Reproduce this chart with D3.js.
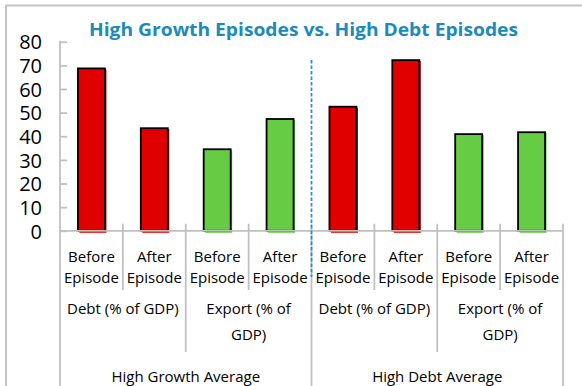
<!DOCTYPE html>
<html>
<head>
<meta charset="utf-8">
<script src="https://cdn.jsdelivr.net/npm/d3@7"></script>
<style>
  html, body { margin: 0; padding: 0; background: #fff; }
  svg { display: block; font-family: "Open Sans", "Noto Sans", sans-serif; }
</style>
</head>
<body>
<svg id="chart" width="582" height="386"></svg>
<script>
// Chart data
const title = "High Growth Episodes vs. High Debt Episodes";
const groups = ["High Growth Average", "High Debt Average"];
const measures = ["Debt (% of GDP)", "Export (% of GDP)"];
const measureLines = [["Debt (% of GDP)"], ["Export (% of", "GDP)"]];
const phases = ["Before Episode", "After Episode"];
const phaseLines = [["Before", "Episode"], ["After", "Episode"]];
const highGrowthDebt = [68.7, 43.4];
const highGrowthExport = [34.5, 47.3];
const highDebtDebt = [52.5, 72.2];
const highDebtExport = [40.9, 41.7];
const yTicks = [0, 10, 20, 30, 40, 50, 60, 70, 80];
const measureColors = ["#e00000", "#66cc44"];

// Flatten into one row per bar
const seriesByGroup = [[highGrowthDebt, highGrowthExport], [highDebtDebt, highDebtExport]];
const bars = [];
groups.forEach((g, gi) => {
  measures.forEach((m, mi) => {
    phases.forEach((p, pi) => {
      bars.push({ key: `${gi}-${mi}-${pi}`, group: gi, measure: mi, phase: pi,
                  value: seriesByGroup[gi][mi][pi] });
    });
  });
});

const svg = d3.select("#chart");
const left = 60, right = 563, zeroY = 230.8, topY = 41.7;

const x = d3.scaleBand().domain(bars.map(d => d.key)).range([left, right]).padding(0);
const y = d3.scaleLinear().domain([0, 80]).range([zeroY, topY]);
const bw = x.bandwidth();
const barW = 27;
const gray = "#bfbfbf";

// Outer frame
svg.append("path")
  .attr("d", `M6,400 V5.5 H600`)
  .attr("fill", "none").attr("stroke", "#c4c4c4").attr("stroke-width", 2);

// Title
svg.append("text")
  .attr("x", 303.5).attr("y", 36)
  .attr("text-anchor", "middle")
  .attr("font-size", 18.5).attr("font-weight", 700)
  .attr("fill", "#1b8abd")
  .attr("textLength", 429).attr("lengthAdjust", "spacingAndGlyphs")
  .text(title);

// Y axis
const yAxis = d3.axisLeft(y).tickValues(yTicks).tickSize(-7).tickPadding(0).tickFormat(d3.format("d"));
const ya = svg.append("g").attr("transform", `translate(${left},0)`).call(yAxis);
ya.select(".domain").remove();
ya.selectAll(".tick line").attr("stroke", gray).attr("stroke-width", 1.75);
ya.selectAll(".tick text")
  .attr("x", -18).attr("dy", "0.36em")
  .attr("font-size", 20).attr("fill", "#000")
  .attr("font-family", "'Open Sans', sans-serif");
svg.append("line")
  .attr("x1", left).attr("x2", left).attr("y1", y(80) - 1).attr("y2", 400)
  .attr("stroke", gray).attr("stroke-width", 1.75);

// Bars: a coloured offset edge, then the outlined bar
const barG = svg.append("g");
barG.selectAll("rect.edge").data(bars).join("rect")
  .attr("class", "edge")
  .attr("x", d => x(d.key) + bw / 2 - barW / 2 + 1.5)
  .attr("y", d => y(d.value) + 1)
  .attr("width", barW)
  .attr("height", d => zeroY - y(d.value) + 1)
  .attr("fill", d => measureColors[d.measure]);
barG.selectAll("rect.bar").data(bars).join("rect")
  .attr("class", "bar")
  .attr("x", d => x(d.key) + bw / 2 - barW / 2)
  .attr("y", d => y(d.value))
  .attr("width", barW)
  .attr("height", d => zeroY - y(d.value))
  .attr("fill", d => measureColors[d.measure])
  .attr("stroke", "#000").attr("stroke-width", 1.8);

// X axis baseline
svg.append("line")
  .attr("x1", left).attr("x2", right).attr("y1", zeroY).attr("y2", zeroY)
  .attr("stroke", gray).attr("stroke-width", 1.75);

// Multi-level category separators
const boundaries = d3.range(bars.length + 1).map(i => left + i * bw);
boundaries.forEach((bx, i) => {
  let y2;
  if (i % 4 === 0) y2 = 400;        // group edges
  else if (i % 2 === 0) y2 = 352;   // measure edges
  else y2 = 290;                    // phase edges
  if (i === 0) return;
  svg.append("line")
    .attr("x1", bx).attr("x2", bx).attr("y1", zeroY - 7).attr("y2", y2)
    .attr("stroke", gray).attr("stroke-width", 1.75);
});

// Phase labels
const lab = svg.append("g").attr("font-size", 15).attr("fill", "#000").attr("text-anchor", "middle");
bars.forEach(d => {
  const cx = x(d.key) + bw / 2;
  phaseLines[d.phase].forEach((t, li) => {
    lab.append("text").attr("x", cx).attr("y", 261.7 + li * 21).text(t);
  });
});
// Measure labels
groups.forEach((g, gi) => {
  measures.forEach((m, mi) => {
    const cx = left + (gi * 4 + mi * 2 + 1) * bw;
    measureLines[mi].forEach((t, li) => {
      lab.append("text").attr("x", cx).attr("y", 313.5 + li * 26).text(t);
    });
  });
  const gx = left + (gi * 4 + 2) * bw;
  lab.append("text").attr("x", gx).attr("y", 381.7).text(g);
});

// Dashed divider between the two episode groups
const midX = left + 4 * bw;
svg.append("line")
  .attr("x1", midX).attr("x2", midX).attr("y1", 60).attr("y2", 277)
  .attr("stroke", "#2a8ad6").attr("stroke-width", 1.75)
  .attr("stroke-dasharray", "3.5,2");
</script>
</body>
</html>
